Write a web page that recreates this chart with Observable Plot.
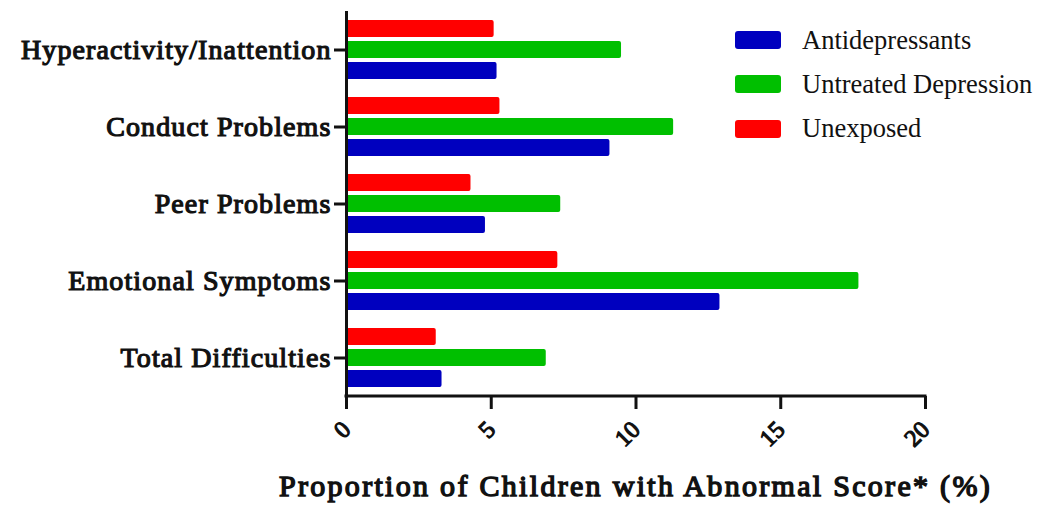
<!DOCTYPE html>
<html>
<head>
<meta charset="utf-8">
<script src="https://cdn.jsdelivr.net/npm/d3@7"></script>
<script src="https://cdn.jsdelivr.net/npm/@observablehq/plot@0.6"></script>
<style>
  html, body { margin: 0; padding: 0; background: white; }
  #wrap { position: relative; width: 1041px; height: 506px; overflow: hidden; font-family: "Liberation Serif", "Times New Roman", serif; }
  #legend { position: absolute; left: 735px; top: 31px; }
  .row { display: flex; align-items: center; height: 18px; margin-bottom: 26.3px; }
  .sw { width: 46px; height: 18px; border-radius: 3px; }
  .lab { margin-left: 21px; font-size: 26.5px; color: #111; white-space: nowrap; }
  #title { position: absolute; left: 246px; width: 779px; top: 466px; text-align: center; font-weight: normal; font-size: 30px; letter-spacing: 2.3px; white-space: nowrap; line-height: 40px; color: #111; -webkit-text-stroke: 1.4px #111; }
</style>
</head>
<body>
<div id="wrap">
  <div id="chart"></div>
  <div id="legend"></div>
  <div id="title"></div>
</div>
<script>
const categories = ["Hyperactivity/Inattention", "Conduct Problems", "Peer Problems", "Emotional Symptoms", "Total Difficulties"];
const series = ["Unexposed", "Untreated Depression", "Antidepressants"];
const colors = ["#ff0000", "#00bf00", "#0000bf"];
const unexposed = [5.1, 5.3, 4.3, 7.3, 3.1];
const untreated = [9.5, 11.3, 7.4, 17.7, 6.9];
const antidepressants = [5.2, 9.1, 4.8, 12.9, 3.3];
const xTicks = [0, 5, 10, 15, 20];
const legendOrder = ["Antidepressants", "Untreated Depression", "Unexposed"];
const xTitle = "Proportion of Children with Abnormal Score* (%)";

const valuesBySeries = [unexposed, untreated, antidepressants];
const rows = [];
categories.forEach((c, i) => {
  series.forEach((s, j) => rows.push({category: c, series: s, value: valuesBySeries[j][i]}));
});

const chart = Plot.plot({
  width: 1041,
  height: 460,
  marginLeft: 346,
  marginRight: 116,
  marginTop: 11,
  marginBottom: 64,
  style: {fontFamily: "'Liberation Serif', 'Times New Roman', serif", background: "white", color: "#111", overflow: "visible"},
  x: {domain: [0, 20]},
  y: {domain: series, paddingInner: 0.19, paddingOuter: 0.428, axis: null},
  fy: {domain: categories, padding: 0},
  color: {domain: series, range: colors},
  marks: [
    Plot.barX(rows, {x: "value", y: "series", fy: "category", fill: "series", rx: 2}),
    Plot.ruleX([0], {stroke: "#111", strokeWidth: 3}),
    Plot.axisFy({anchor: "left", tickSize: 12, tickPadding: 3, fontSize: 28, label: null, strokeWidth: 3}),
    Plot.axisX({ticks: xTicks, tickSize: 13, tickRotate: -45, tickPadding: 16, fontSize: 24, label: null, strokeWidth: 3})
  ]
});

const svg = d3.select(chart);
svg.selectAll("text").attr("stroke", "#111").attr("stroke-width", 1.2).attr("font-weight", "normal");
svg.selectAll('[aria-label="fy-axis tick label"] text').style("letter-spacing", "1.1px");

const sx = chart.scale("x");
svg.append("line")
  .attr("x1", sx.apply(0) - 1.5).attr("x2", sx.apply(20) + 1.5)
  .attr("y1", 460 - 64).attr("y2", 460 - 64)
  .attr("stroke", "#111").attr("stroke-width", 3);

document.getElementById("chart").appendChild(chart);

const legend = d3.select("#legend");
legendOrder.forEach(name => {
  const r = legend.append("div").attr("class", "row");
  r.append("div").attr("class", "sw").style("background", colors[series.indexOf(name)]);
  r.append("div").attr("class", "lab").text(name);
});
document.getElementById("title").textContent = xTitle;
</script>
</body>
</html>
